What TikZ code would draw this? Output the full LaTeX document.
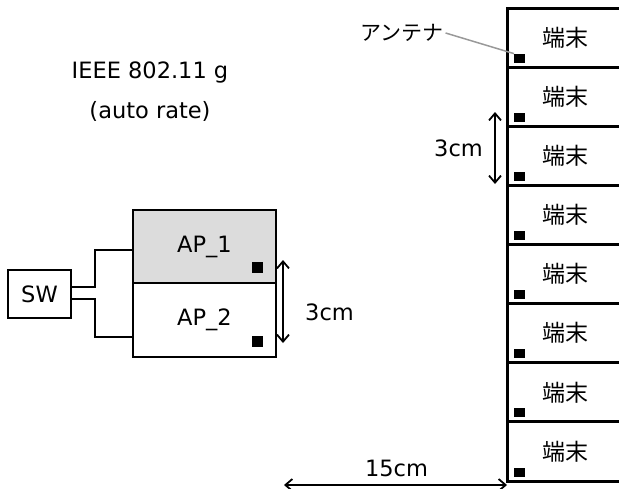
\documentclass[tikz,border=0pt]{standalone}
\usepackage{fontspec}
\setmainfont{DejaVu Sans}
\newfontfamily\jp{Noto Sans CJK JP}
\usepackage{tikz}
\usetikzlibrary{arrows.meta, positioning}
\definecolor{apgray}{HTML}{DCDCDC}
\definecolor{leader}{HTML}{999999}

\begin{document}
\begin{tikzpicture}[x=1pt, y=-1pt,
      every node/.style={font=\fontsize{22.5}{27}\selectfont, inner sep=0pt, outer sep=0pt},
      term/.style={rectangle, draw, line width=3pt, minimum width=116pt, minimum height=59.125pt,
                   font=\jp\fontsize{23}{27}\selectfont},
      apbox/.style={rectangle, draw, line width=2pt, minimum width=143pt, minimum height=73.5pt},
      ant/.style={rectangle, fill=black, minimum width=11pt, minimum height=9pt},
      wire/.style={line width=2pt},
      dim/.style={line width=1.8pt, {Straight Barb[length=7pt,width=12pt]}-{Straight Barb[length=7pt,width=12pt]}}]
      \useasboundingbox (0,0) rectangle (619,488);
      \node (std) at (150,72) {IEEE 802.11 g};
      \node (rate) at (150,111) {(auto rate)};
      % access points
      \node[apbox, fill=apgray] (ap1) at (204.5,246.5) {AP\_1};
      \node[apbox, below=0pt of ap1] (ap2) {AP\_2};
      \node[ant, minimum height=11pt] (s1) at ([shift={(-18.5,-15.5)}]ap1.south east) {};
      \node[ant, minimum height=11pt] (s2) at ([shift={(-18.5,-15.5)}]ap2.south east) {};
      \node[rectangle, draw, line width=2pt, minimum width=63pt, minimum height=48pt] (sw) at (39.5,294) {SW};
      \draw[wire] ([yshift=7pt]sw.east) -- ++(24,0) |- ([yshift=-3.5pt]ap1.west);
      \draw[wire] ([yshift=-5pt]sw.east) -- ++(24,0) |- ([yshift=-17pt]ap2.west);
      \coordinate (d1a) at (283,260);
      \coordinate (d1b) at (283,343);
      \draw[dim] (d1a) -- (d1b);
      \node (d1) at (329.5,312) {3cm};
      % terminals
      \foreach \i in {1,...,8} {
        \node[term] (t\i) at (565, {37.56+(\i-1)*59.125}) {端末};
        \node[ant] (a\i) at ([shift={(12.5,-9)}]t\i.south west) {};
      }
      \node[font=\jp\fontsize{21}{25}\selectfont] (antlab) at (402,33) {アンテナ};
      \draw[leader, line width=1.5pt] ([xshift=2pt]antlab.east) -- (a1.north west);
      \coordinate (d2a) at (495,112);
      \coordinate (d2b) at (495,184);
      \draw[dim] (d2a) -- (d2b);
      \node (d2) at (458.5,148) {3cm};
      \coordinate (d3a) at (284,485);
      \draw[dim] (d3a) -- (t8.south west |- d3a);
      \node (d3) at (396.5,468) {15cm};
    \end{tikzpicture}
\end{document}
